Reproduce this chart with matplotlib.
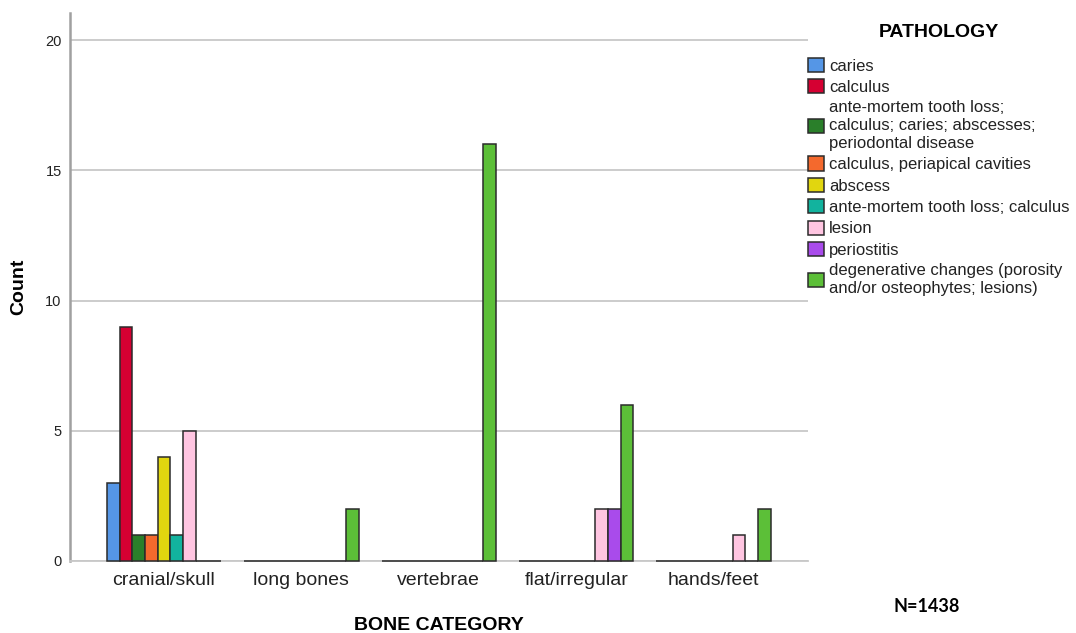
import matplotlib
matplotlib.use("Agg")
import matplotlib.pyplot as plt
from matplotlib.patches import Patch
import numpy as np

categories = ["cranial/skull", "long bones", "vertebrae", "flat/irregular", "hands/feet"]
pathologies = [
    "caries",
    "calculus",
    "ante-mortem tooth loss;\ncalculus; caries; abscesses;\nperiodontal disease",
    "calculus, periapical cavities",
    "abscess",
    "ante-mortem tooth loss; calculus",
    "lesion",
    "periostitis",
    "degenerative changes (porosity\nand/or osteophytes; lesions)",
]
caries = [3, 0, 0, 0, 0]
calculus = [9, 0, 0, 0, 0]
amtl_multi = [1, 0, 0, 0, 0]
calculus_periapical = [1, 0, 0, 0, 0]
abscess = [4, 0, 0, 0, 0]
amtl_calculus = [1, 0, 0, 0, 0]
lesion = [5, 0, 0, 2, 1]
periostitis = [0, 0, 0, 2, 0]
degenerative = [0, 2, 16, 6, 2]
series = [caries, calculus, amtl_multi, calculus_periapical, abscess,
          amtl_calculus, lesion, periostitis, degenerative]
colors = ["#5596E6", "#D50032", "#2A7F2A", "#F4692D", "#E1D60F",
          "#12B39E", "#FFC5E1", "#A94BEB", "#5CBF38"]
y_ticks = [0, 5, 10, 15, 20]
n_label = "N=1438"

plt.rcParams['font.family'] = ['Liberation Sans', 'DejaVu Sans']

W, H = 1076, 633
fig = plt.figure(figsize=(W / 100, H / 100), dpi=100)
ax = fig.add_axes([70 / W, 1 - 561 / H, (808 - 70) / W, (561 - 13) / H])

x = np.arange(len(categories))
n = len(series)
bw = 0.0925
for i, (vals, c) in enumerate(zip(series, colors)):
    ax.bar(x + (i - (n - 1) / 2) * bw, vals, width=bw, color=c,
           edgecolor="#2b2b2b", linewidth=1.1, zorder=3, clip_on=False)

ax.set_xlim(-0.684, 4.687)
ax.set_ylim(0, 21.04)
ax.set_yticks(y_ticks)
ax.set_xticks(x)
ax.set_xticklabels(categories, fontsize=14, color="#222222")
ax.tick_params(axis="x", length=0, pad=8)
ax.tick_params(axis="y", length=0, pad=6, labelsize=10.5, labelcolor="#222222")
ax.yaxis.grid(True, color="#c8c8c8", linewidth=1.3, zorder=0)
ax.set_axisbelow(True)
for s in ["top", "right"]:
    ax.spines[s].set_visible(False)
ax.spines["left"].set_color("#a0a0a0")
ax.spines["left"].set_linewidth(1.8)
ax.spines["bottom"].set_color("#c8c8c8")
ax.spines["bottom"].set_linewidth(1.3)

ax.set_xlabel("BONE CATEGORY", fontsize=14, fontweight="bold", labelpad=20)
ax.set_ylabel("Count", fontsize=14, fontweight="bold", labelpad=13)

handles = [Patch(facecolor=c, edgecolor="#2b2b2b", linewidth=1.1) for c in colors]
leg = fig.legend(handles, pathologies, loc="upper left",
                 bbox_to_anchor=(808 / W, 1 - 24 / H), frameon=False,
                 fontsize=12, handlelength=0.95, handleheight=0.95,
                 handletextpad=0.3, labelspacing=0.33, borderpad=0,
                 borderaxespad=0, title="PATHOLOGY",
                 title_fontproperties={"weight": "bold", "size": 14})
for t in leg.get_texts():
    t.set_linespacing(1.22)
    t.set_color("#222222")
leg._legend_box.sep = 12

fig.text(927 / W, 1 - 606 / H, n_label, ha="center", va="center",
         fontsize=13, fontweight="bold", family=["Lato", "DejaVu Sans"])

fig.savefig("out.png", dpi=100)
